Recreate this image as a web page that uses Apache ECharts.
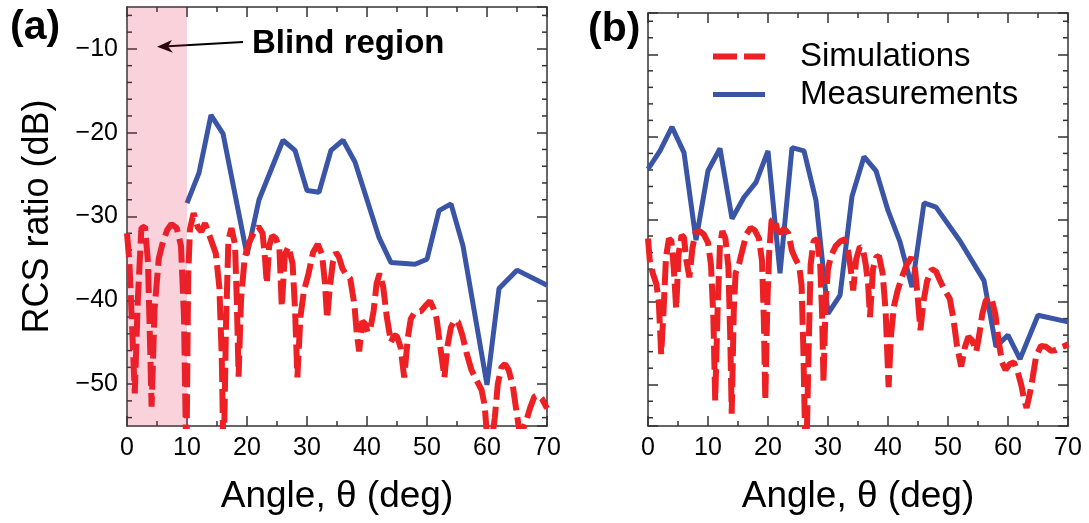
<!DOCTYPE html>
<html>
<head>
<meta charset="utf-8">
<script src="https://cdn.jsdelivr.net/npm/echarts@6/dist/echarts.min.js"></script>
<style>
  html, body { margin: 0; padding: 0; background: #fff; }
  #chart { width: 1089px; height: 523px; }
</style>
</head>
<body>
<div id="chart"></div>
<script>
// ---- axis ticks ----
const angleRange = [0, 70];
const dbRange = [-55, -5];
const dbTicks = [-50, -40, -30, -20, -10];
const dbMinorTicks = [-54, -52, -48, -46, -44, -42, -38, -36, -34, -32, -28, -26, -24, -22, -18, -16, -14, -12, -8, -6];

// ---- (a): shaded blind region (deg) ----
const blindRegion = [0, 10];

// ---- (a): measurements ----
const measAAngle = [10, 12, 14, 16, 20, 22, 26, 28, 30, 32, 34, 36, 38, 42, 44, 48, 50, 52, 54, 56, 60, 62, 65, 70];
const measADb = [-28.4, -24.8, -17.9, -20.1, -34.6, -28.0, -20.9, -22.1, -26.9, -27.1, -22.1, -20.9, -23.5, -32.5, -35.5, -35.7, -35.1, -29.3, -28.5, -33.5, -50.1, -38.6, -36.4, -38.2];

// ---- (a): simulations ----
const simAAngle = [0.0, 0.4, 0.9, 1.3, 1.8, 2.4, 3.0, 3.5, 3.8, 4.1, 4.6, 5.3, 6.0, 6.7, 7.4, 8.3, 9.0, 9.5, 9.9,
  10.2, 10.5, 11.1, 11.8, 12.4, 13.0, 13.8, 14.8, 15.4, 15.8, 16.1, 16.5, 16.9, 17.4, 18.0, 18.3, 18.6, 19.0, 19.6,
  20.3, 21.1, 21.9, 22.6, 23.0, 23.3, 23.7, 24.2, 24.8, 25.4, 25.8, 26.3, 26.9, 27.6, 28.0, 28.4, 28.9, 29.5,
  30.2, 31.0, 31.8, 32.5, 33.0, 33.35, 33.8, 34.3, 34.8, 35.3, 35.9, 36.5, 37.2, 37.9, 38.3, 38.7, 39.2, 39.7,
  40.1, 40.5, 41.1, 41.6, 42.1, 42.7, 43.3, 44.0, 44.5, 45.0, 45.6, 46.2, 46.8, 47.3, 48.0, 49.0, 49.8,
  50.5, 51.1, 51.6, 52.2, 52.9, 53.4, 54.0, 54.6, 55.2, 55.9, 56.6, 57.4, 58.3, 59.1, 59.6,
  60.1, 60.6, 61.3, 61.8, 62.4, 63.0, 63.6, 64.3, 64.9, 65.4, 65.9, 66.5, 67.2, 67.9, 68.5, 69.2, 70.0];
const simADb = [-32.0, -35.5, -44.0, -51.1, -40.0, -31.4, -31.2, -35.5, -44.0, -52.7, -41.0, -35.0, -33.0, -31.6, -30.9, -31.4, -33.5, -42.0, -60.0,
  -37.0, -31.5, -29.6, -31.3, -31.8, -30.8, -32.4, -34.4, -38.5, -47.0, -60.0, -43.0, -32.8, -31.4, -33.3, -40.0, -49.1, -40.0, -35.0,
  -33.2, -32.0, -31.2, -32.0, -35.0, -38.0, -33.5, -32.3, -32.6, -33.8, -40.8, -34.6, -33.6, -35.6, -41.0, -49.2, -42.0, -38.8,
  -37.0, -34.3, -33.3, -34.5, -38.0, -42.2, -38.5, -35.5, -34.3, -34.8, -36.2, -36.9, -37.4, -40.5, -44.0, -46.1, -42.5, -42.8,
  -43.8, -43.6, -41.3, -38.0, -36.8, -38.4, -42.0, -45.0, -44.2, -44.3, -45.6, -49.2, -44.5, -42.2, -41.4, -41.3, -40.6,
  -40.1, -41.0, -42.2, -45.5, -49.2, -45.5, -43.2, -42.4, -42.6, -44.2, -46.3, -48.3, -49.6, -50.7, -52.5,
  -57.0, -58.0, -54.0, -50.0, -48.0, -47.6, -48.3, -50.2, -53.2, -55.6, -55.6, -54.5, -52.8, -51.5, -51.3, -51.8, -52.9];

// ---- (b): measurements ----
const measBAngle = [0, 2, 4, 6, 8, 10, 12, 14, 16, 18, 20, 22, 24, 26, 28, 30, 32, 34, 36, 38, 40, 42, 44, 46, 48, 52, 56, 58, 60, 62, 65, 70];
const measBDb = [-23.9, -21.7, -18.8, -21.9, -32.5, -24.1, -21.4, -29.9, -27.3, -25.5, -21.7, -36.5, -21.3, -21.7, -27.7, -41.4, -39.2, -27.2, -22.4, -24.1, -28.9, -32.7, -38.2, -28.0, -28.5, -32.6, -37.4, -45.4, -44.0, -46.9, -41.6, -42.4];

// ---- (b): simulations ----
const simBAngle = [0.0, 0.3, 0.8, 1.4, 1.8, 2.2, 2.6, 3.0, 3.5, 3.9, 4.3, 4.7, 5.1, 5.6, 6.0, 6.4, 6.9, 7.4, 7.9, 8.6, 9.3,
  10.0, 10.5, 10.9, 11.2, 11.6, 12.0, 12.4, 12.9, 13.4, 13.7, 13.95, 14.3, 14.6, 15.1, 15.7, 16.4, 17.1, 17.8, 18.5, 19.0, 19.3, 19.55, 19.9,
  20.2, 20.6, 21.1, 21.6, 22.1, 22.7, 23.4, 24.0, 24.6, 25.2, 25.6, 25.9, 26.2, 26.5, 26.8, 27.1, 27.6, 28.2, 28.7, 29.0, 29.25, 29.6,
  30.0, 30.5, 31.3, 32.1, 32.8, 33.4, 33.8, 34.2, 34.7, 35.3, 35.8, 36.3, 36.7, 37.0, 37.5, 38.0, 38.5, 39.1, 39.6,
  40.1, 40.5, 41.0, 41.6, 42.3, 43.1, 43.9, 44.5, 44.9, 45.4, 45.9, 46.5, 47.3, 48.0, 48.6, 49.4,
  50.3, 50.9, 51.5, 52.2, 52.8, 53.4, 54.0, 54.7, 55.2, 55.7, 56.3, 57.2, 57.9, 58.4, 59.0, 59.6,
  60.3, 61.0, 61.6, 62.2, 62.7, 63.1, 63.6, 64.1, 64.7, 65.5, 66.3, 67.2, 68.0, 68.8, 69.5, 70.0];
const simBDb = [-32.3, -35.0, -36.5, -37.8, -40.0, -46.3, -41.0, -34.5, -32.3, -32.6, -36.0, -40.8, -34.2, -31.9, -32.2, -35.0, -37.0, -33.5, -31.6, -31.4, -31.8,
  -32.8, -35.5, -42.0, -51.9, -41.0, -33.0, -31.4, -32.3, -35.8, -44.0, -53.5, -41.0, -36.5, -35.6, -33.8, -31.8, -31.0, -31.3, -32.3, -35.0, -42.0, -51.9, -40.0,
  -34.0, -30.1, -29.9, -31.4, -31.6, -31.1, -31.7, -33.8, -34.8, -35.6, -38.0, -46.0, -57.0, -55.0, -45.0, -35.5, -32.6, -32.4, -35.5, -41.0, -49.7, -40.0,
  -36.0, -34.4, -33.2, -32.6, -32.4, -34.0, -36.0, -38.6, -34.8, -33.3, -33.5, -35.5, -38.0, -41.8, -36.0, -34.6, -34.4, -36.5, -41.0,
  -50.3, -44.0, -40.5, -38.6, -37.0, -35.5, -34.6, -36.0, -39.0, -43.4, -40.0, -37.5, -36.0, -36.3, -37.3, -38.5,
  -39.6, -42.0, -45.3, -47.8, -45.5, -44.2, -44.6, -46.0, -44.0, -41.5, -39.8, -39.4, -41.5, -44.5, -47.3, -48.2,
  -47.5, -47.3, -48.4, -50.0, -51.8, -52.8, -51.2, -49.2, -46.5, -45.3, -45.4, -45.9, -45.8, -45.5, -45.3, -45.1];

const FONT = '"Liberation Sans", Arial, Helvetica, sans-serif';
const AXIS_COLOR = '#333';
const RED = '#ed2124';
const BLUE = '#3a55a5';
const SIM_DASH = [24, 7];
const MINOR_LEN = 5;

const zip = (xs, ys) => xs.map((x, i) => [x, ys[i]]);
const minus = v => String(v).replace('-', '\u2212');

// plot panels
const panels = [
  { left: 127, top: 7, width: 420, height: 419 },
  { left: 648, top: 13, width: 420, height: 413 }
];

const xAxes = [];
const yAxes = [];
const line = { show: true, onZero: false, lineStyle: { color: AXIS_COLOR, width: 1.5 } };
const tick = { show: true, inside: true, length: 10, lineStyle: { color: AXIS_COLOR, width: 1.5 } };
const minor = { show: true, splitNumber: 2, length: MINOR_LEN, lineStyle: { color: AXIS_COLOR, width: 1.5 } };

panels.forEach((g, gi) => {
  // bottom angle axis
  xAxes.push({
    gridIndex: gi, type: 'value', position: 'bottom', min: angleRange[0], max: angleRange[1], interval: 10,
    axisLine: line, axisTick: tick, minorTick: minor, splitLine: { show: false },
    axisLabel: { fontSize: 25, fontFamily: FONT, color: '#000', margin: 10 },
    name: 'Angle, \u03b8 (deg)', nameLocation: 'middle', nameGap: 52,
    nameTextStyle: { fontSize: 37, fontFamily: FONT, color: '#000', lineHeight: 37 }
  });
  // top mirror axis
  xAxes.push({
    gridIndex: gi, type: 'value', position: 'top', min: angleRange[0], max: angleRange[1], interval: 10,
    axisLine: line, axisTick: tick, minorTick: minor, splitLine: { show: false },
    axisLabel: { show: false }
  });
  const yBase = { gridIndex: gi, type: 'value', min: dbRange[0], max: dbRange[1], splitNumber: 5, minInterval: 10, maxInterval: 10, splitLine: { show: false } };
  // left dB axis
  yAxes.push(Object.assign({}, yBase, {
    position: 'left', axisLine: line, axisTick: tick,
    axisLabel: {
      show: gi === 0, showMinLabel: false, showMaxLabel: false,
      formatter: v => (dbTicks.indexOf(v) >= 0 ? minus(v) : ''),
      fontSize: 25, fontFamily: FONT, color: '#000', margin: 9
    },
    name: gi === 0 ? 'RCS ratio (dB)' : '', nameLocation: 'middle', nameGap: 71,
    nameTextStyle: { fontSize: 36, fontFamily: FONT, color: '#000', lineHeight: 36 }
  }));
  // right mirror dB axis
  yAxes.push(Object.assign({}, yBase, {
    position: 'right', axisLine: line, axisTick: tick, axisLabel: { show: false }
  }));
});

const lineSeries = (name, xi, yi, data, color, width, dash, z) => ({
  name, type: 'line', xAxisIndex: xi, yAxisIndex: yi, data,
  showSymbol: false, symbol: 'none', clip: true, z,
  lineStyle: { color, width, type: dash },
  itemStyle: { color }
});

// 2 dB minor ticks on both dB edges of a panel, placed through the panel scales
const minorTickSeries = (xi, yi) => ({
  type: 'custom', xAxisIndex: xi, yAxisIndex: yi, z: 1, silent: true, clip: false,
  data: dbMinorTicks.map(v => [angleRange[0], v]),
  renderItem(params, api) {
    const l = api.coord([angleRange[0], api.value(1)]);
    const r = api.coord([angleRange[1], api.value(1)]);
    const st = { stroke: AXIS_COLOR, lineWidth: 1.5 };
    return {
      type: 'group',
      children: [
        { type: 'line', shape: { x1: l[0], y1: l[1], x2: l[0] + MINOR_LEN, y2: l[1] }, style: st },
        { type: 'line', shape: { x1: r[0], y1: r[1], x2: r[0] - MINOR_LEN, y2: r[1] }, style: st }
      ]
    };
  }
});

const option = {
  backgroundColor: '#fff',
  animation: false,
  grid: panels,
  xAxis: xAxes,
  yAxis: yAxes,
  legend: {
    orient: 'vertical', left: 705, top: 35,
    itemWidth: 52, itemHeight: 20, itemGap: 5,
    selectedMode: false,
    itemStyle: { opacity: 0 },
    data: [
      { name: 'Simulations', lineStyle: { width: 6, type: SIM_DASH, color: RED } },
      { name: 'Measurements', lineStyle: { width: 5, type: 'solid', color: BLUE } }
    ],
    textStyle: { fontSize: 33, fontFamily: FONT, color: '#000', lineHeight: 33, padding: [0, 0, 0, 30] }
  },
  series: [
    minorTickSeries(0, 0),
    minorTickSeries(2, 2),
    lineSeries('Measurements', 0, 0, zip(measAAngle, measADb), BLUE, 5, 'solid', 2),
    lineSeries('Simulations', 0, 0, zip(simAAngle, simADb), RED, 6, SIM_DASH, 3),
    lineSeries('Measurements', 2, 2, zip(measBAngle, measBDb), BLUE, 5, 'solid', 2),
    lineSeries('Simulations', 2, 2, zip(simBAngle, simBDb), RED, 6, SIM_DASH, 3),
    {
      // translucent band over the blind angular range
      type: 'custom', xAxisIndex: 0, yAxisIndex: 0, z: 10, silent: true,
      data: [blindRegion],
      renderItem(params, api) {
        const p0 = api.coord([api.value(0), dbRange[1]]);
        const p1 = api.coord([api.value(1), dbRange[0]]);
        return {
          type: 'rect',
          shape: { x: p0[0], y: p0[1], width: p1[0] - p0[0], height: p1[1] - p0[1] },
          style: { fill: 'rgba(225, 30, 80, 0.2)' }
        };
      }
    }
  ],
  graphic: [
    { type: 'text', x: 10, y: 27.6, style: { text: '(a)', font: 'bold 41px ' + FONT, fill: '#000', align: 'left', verticalAlign: 'middle' } },
    { type: 'text', x: 588, y: 29.8, style: { text: '(b)', font: 'bold 41px ' + FONT, fill: '#000', align: 'left', verticalAlign: 'middle' } },
    { type: 'text', x: 252, y: 43.6, style: { text: 'Blind region', font: 'bold 33px ' + FONT, fill: '#000', align: 'left', verticalAlign: 'middle' } },
    { type: 'line', shape: { x1: 243, y1: 42, x2: 168, y2: 46.3 }, style: { stroke: '#000', lineWidth: 2 } },
    { type: 'polygon', shape: { points: [[157, 46.8], [172, 40], [168, 46.4], [173, 52.7]] }, style: { fill: '#000' } }
  ]
};

const chart = echarts.init(document.getElementById('chart'), null, { renderer: 'canvas' });
chart.setOption(option);
</script>
</body>
</html>
